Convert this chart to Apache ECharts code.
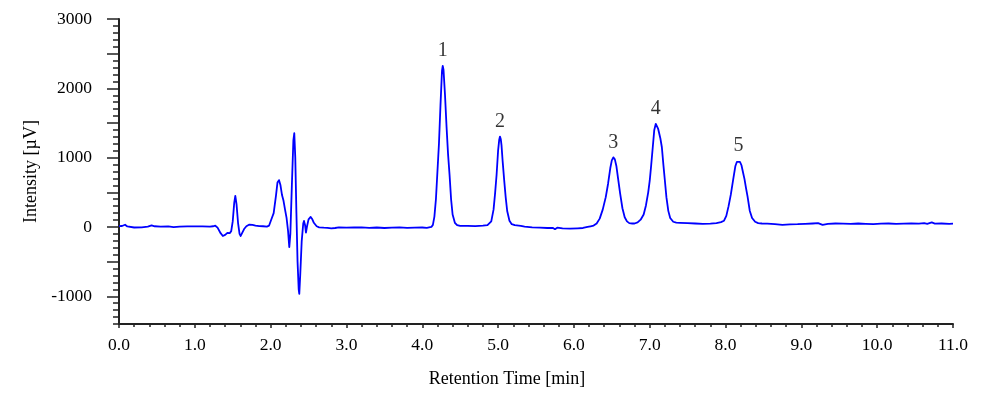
<!DOCTYPE html>
<html>
<head>
<meta charset="utf-8">
<script src="https://cdn.jsdelivr.net/npm/echarts@6/dist/echarts.min.js"></script>
<style>
  html, body { margin: 0; padding: 0; background: #ffffff; }
  #chart { width: 988px; height: 397px; }
</style>
</head>
<body>
<div id="chart"></div>
<script>
// Retention time (min)
const times = [
  0.00, 0.04, 0.08, 0.11, 0.20, 0.30, 0.38, 0.43, 0.47, 0.55, 0.65, 0.72, 0.80, 0.90, 1.00, 1.10, 1.20,
  1.24, 1.27, 1.30, 1.34, 1.37, 1.40, 1.43, 1.46, 1.48, 1.50, 1.52, 1.534, 1.55, 1.57, 1.59, 1.605, 1.62,
  1.65, 1.68, 1.72, 1.76, 1.80, 1.85, 1.90, 1.95, 1.98, 2.01, 2.04, 2.07, 2.09, 2.11, 2.13, 2.15, 2.17,
  2.19, 2.21, 2.23, 2.246, 2.26, 2.28, 2.30, 2.312, 2.325, 2.34, 2.355, 2.37, 2.378, 2.39, 2.41, 2.43,
  2.44, 2.455, 2.466, 2.48, 2.50, 2.528, 2.55, 2.57, 2.607, 2.64, 2.70, 2.75, 2.80, 2.85, 2.90, 3.00,
  3.10, 3.20, 3.30, 3.40, 3.50, 3.60, 3.70, 3.80, 3.90, 4.00, 4.06,
  4.12, 4.14, 4.16, 4.18, 4.20, 4.22, 4.24, 4.26, 4.27, 4.28, 4.30, 4.32, 4.34, 4.36, 4.38, 4.40, 4.43,
  4.46, 4.50, 4.60, 4.70, 4.80, 4.86,
  4.88, 4.91, 4.94, 4.96, 4.98, 5.00, 5.015, 5.025, 5.035, 5.045, 5.06, 5.08, 5.10, 5.12, 5.15, 5.18, 5.22, 5.30,
  5.35, 5.45, 5.55, 5.65, 5.72, 5.75, 5.78, 5.85, 5.95, 6.05, 6.12, 6.18, 6.22,
  6.26, 6.30, 6.34, 6.38, 6.42, 6.45, 6.48, 6.50, 6.52, 6.54, 6.56, 6.58, 6.61, 6.64, 6.67, 6.70, 6.73, 6.77,
  6.80, 6.84, 6.88, 6.92, 6.95, 6.98, 7.00, 7.02, 7.04, 7.06, 7.08, 7.095, 7.11, 7.14, 7.16, 7.18, 7.20, 7.22, 7.245, 7.27, 7.31, 7.35,
  7.40, 7.50, 7.60, 7.70, 7.80, 7.88, 7.94,
  7.98, 8.01, 8.04, 8.07, 8.10, 8.13, 8.15, 8.17, 8.19, 8.21, 8.23, 8.25, 8.27, 8.29, 8.32, 8.35, 8.39, 8.43, 8.48,
  8.55, 8.65, 8.75, 8.85, 8.95, 9.05, 9.15, 9.22, 9.28, 9.35, 9.45, 9.55, 9.65, 9.75, 9.85, 9.95,
  10.05, 10.15, 10.25, 10.35, 10.45, 10.55, 10.62, 10.66, 10.72, 10.76, 10.85, 10.95, 11.00
];
// Intensity (µV)
const intensity = [
  12, 14, 32, 8, -8, -5, 5, 22, 10, 5, 8, -2, 6, 8, 7, 9, 4,
  10, 18, -10, -90, -130, -115, -85, -90, -60, 80, 350, 449, 330, 60, -100, -130, -110,
  -30, 10, 35, 30, 18, 12, 10, 5, 20, 111, 200, 450, 640, 676, 600, 460, 377,
  250, 130, -60, -290, -100, 600, 1250, 1352, 1000, 200, -500, -900, -966, -700, -200, 50,
  87, 20, -82, 10, 110, 145, 110, 60, 10, -5, -10, -12, -20, -15, -5, -10,
  -8, -5, -12, -8, -15, -10, -5, -12, -10, -8, -12,
  0, 30, 150, 400, 800, 1200, 1750, 2250, 2323, 2270, 1900, 1450, 1050, 750, 400, 180, 60,
  25, 15, 15, 12, 18, 25,
  30, 80, 250, 480, 750, 1100, 1260, 1304, 1270, 1180, 950, 680, 430, 230, 90, 40, 25, 15,
  5, -5, -10, -15, -12, -32, -10, -20, -25, -20, -15, 0, 10,
  20, 50, 120, 250, 430, 620, 850, 960, 1004, 975, 880, 720, 480, 270, 140, 80, 55, 50,
  50, 65, 105, 180, 310, 500, 667, 900, 1150, 1400, 1488, 1470, 1420, 1280, 1150, 900, 667, 430, 232, 130, 75, 62,
  60, 55, 50, 45, 48, 55, 70,
  90, 160, 300, 470, 680, 880, 940, 957, 940, 890, 790, 690, 560, 440, 230, 130, 75, 55, 50,
  48, 42, 30, 38, 40, 45, 50, 55, 30, 45, 50, 48, 45, 50, 45, 42,
  48, 50, 45, 48, 52, 48, 55, 45, 65, 48, 50, 45, 48
];
// Peak annotations (apex positions)
const peakLabels = ['1', '2', '3', '4', '5'];
const peakTimes = [4.27, 5.025, 6.52, 7.08, 8.17];
const peakHeights = [2323, 1304, 1004, 1488, 957];

// Axis tick values
const yLabelValues = [-1000, 0, 1000, 2000, 3000];
const yMajorTickValues = [-1000, -500, 0, 500, 1000, 1500, 2000, 2500, 3000];
const yMinorTickValues = [];
for (let v = -1400; v <= 3000; v += 100) yMinorTickValues.push(v);

const FONT = '"Liberation Serif", "Times New Roman", serif';

const lineData = times.map((t, i) => [t, intensity[i]]);
const peakData = peakTimes.map((t, i) => [t, peakHeights[i], peakLabels[i]]);

const chart = echarts.init(document.getElementById('chart'), null, { renderer: 'canvas' });
chart.setOption({
  animation: false,
  backgroundColor: '#ffffff',
  grid: { left: 119, right: 35, top: 19, bottom: 73, containLabel: false },
  xAxis: {
    type: 'value',
    min: 0, max: 11, interval: 1,
    name: 'Retention Time [min]',
    nameLocation: 'middle',
    nameGap: 46,
    nameTextStyle: { fontFamily: FONT, fontSize: 18, color: '#000', padding: [0, 58, 0, 0] },
    axisLine: { onZero: false, lineStyle: { color: '#222', width: 2 } },
    axisTick: { show: true, length: 4, lineStyle: { color: '#222', width: 1.5 } },
    minorTick: { show: true, splitNumber: 5, length: 3, lineStyle: { color: '#222', width: 1.5 } },
    axisLabel: { fontFamily: FONT, fontSize: 17.5, color: '#000', margin: 12,
      formatter: v => v.toFixed(1) },
    splitLine: { show: false }
  },
  yAxis: [{
    type: 'value',
    min: -1400, max: 3000,
    position: 'left',
    name: 'Intensity [µV]',
    nameLocation: 'middle',
    nameGap: 78,
    nameTextStyle: { fontFamily: FONT, fontSize: 18, color: '#000' },
    axisLine: { show: true, onZero: false, lineStyle: { color: '#222', width: 2 } },
    axisTick: { show: true, length: 12, customValues: yMajorTickValues, lineStyle: { color: '#222', width: 1.5 } },
    axisLabel: { fontFamily: FONT, fontSize: 17.5, color: '#000', margin: 27, customValues: yLabelValues,
      formatter: v => String(v) },
    splitLine: { show: false }
  }, {
    type: 'value',
    min: -1400, max: 3000,
    position: 'left',
    axisLine: { show: false },
    axisTick: { show: true, length: 6, customValues: yMinorTickValues, lineStyle: { color: '#222', width: 1.5 } },
    axisLabel: { show: false },
    splitLine: { show: false }
  }],
  series: [{
    type: 'line',
    data: lineData,
    showSymbol: false,
    smooth: false,
    lineStyle: { color: '#0000ff', width: 1.8, join: 'round' },
    silent: true
  }, {
    type: 'scatter',
    data: peakData,
    symbolSize: 0,
    silent: true,
    label: {
      show: true, position: 'top', distance: 5,
      fontFamily: FONT, fontSize: 20, color: '#000',
      formatter: p => p.value[2]
    }
  }]
});
</script>
</body>
</html>
